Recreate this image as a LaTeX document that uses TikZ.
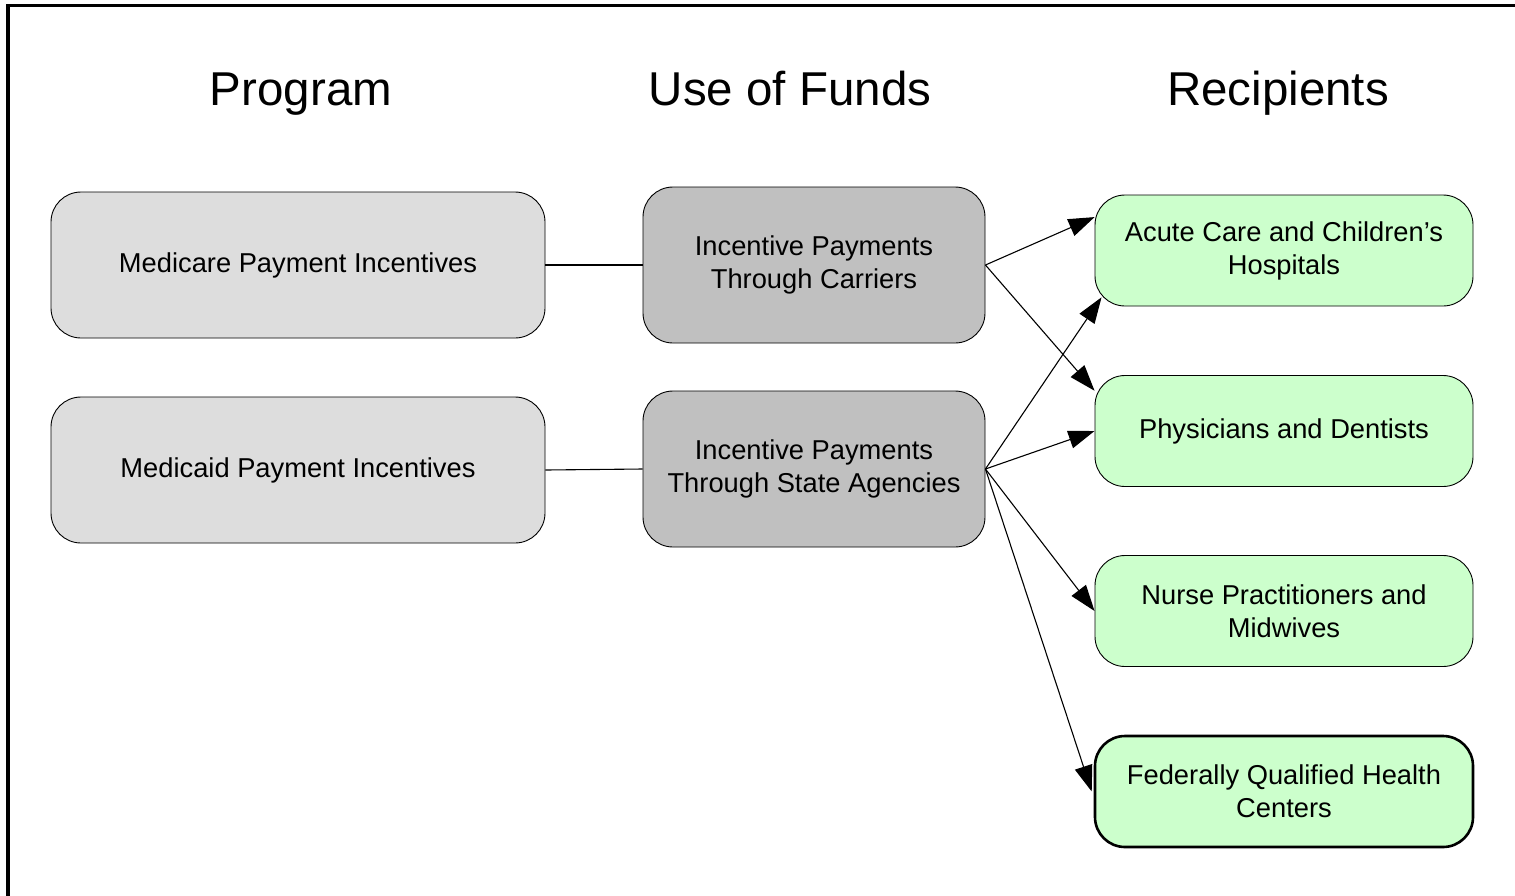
\documentclass[tikz,border=0pt]{standalone}
\usepackage{fontspec}
\setmainfont{Liberation Sans}
\usetikzlibrary{arrows.meta}
\definecolor{lgray}{HTML}{DDDDDD}
\definecolor{dgray}{HTML}{C0C0C0}
\definecolor{lgreen}{HTML}{CCFFCC}
\tikzset{
  base/.style={draw=black, line width=0.9pt, rounded corners=30pt, align=center,
    font=\fontsize{27.3}{33}\selectfont, inner sep=0pt},
  prog/.style={base, fill=lgray, minimum width=494pt, minimum height=146pt},
  fund/.style={base, fill=dgray, minimum width=342pt, minimum height=156pt},
  recip/.style={base, fill=lgreen, minimum width=378pt, minimum height=111pt},
  title/.style={font=\fontsize{47.5}{56}\selectfont, inner sep=0pt, anchor=base},
  link/.style={line width=1.1pt},
  arr/.style={line width=1.1pt, -{Triangle[length=26pt,width=18pt]}}
}
\begin{document}
\begin{tikzpicture}[x=1pt,y=-1pt]
\useasboundingbox (0,0) rectangle (1515,895);
\clip (0,0) rectangle (1515,895);
\fill[white] (0,0) rectangle (1515,895);
\draw[line width=3.2pt] (8,5.5) rectangle (1540,920);
\node[title] (tprog) at (301,105) {Program};
\node[title] (tfund) at (790,105) {Use of Funds};
\node[title] (trec) at (1278,105) {Recipients};
\node[prog] (mcare) at (298,265) {Medicare Payment Incentives};
\node[prog] (mcaid) at (298,470) {Medicaid Payment Incentives};
\node[fund] (car) at (814,265) {Incentive Payments\\Through Carriers};
\node[fund] (sta) at (814,469) {Incentive Payments\\Through State Agencies};
\node[recip] (acute) at (1284,250.5) {Acute Care and Children’s\\Hospitals};
\node[recip] (phys) at (1284,431) {Physicians and Dentists};
\node[recip] (nurse) at (1284,611) {Nurse Practitioners and\\Midwives};
\node[recip, line width=2.6pt] (fqhc) at (1284,791.5) {Federally Qualified Health\\Centers};
\draw[link] (mcare.east) -- (car.west);
\draw[link] (mcaid.east) -- (sta.west);
\draw[arr] (car.east) -- (acute.170);
\draw[arr] (car.east) -- (phys.168);
\draw[arr] (sta.east) -- ([shift={(7,-4)}]acute.195);
\draw[arr] (sta.east) -- (phys.west);
\draw[arr] (sta.east) -- (nurse.west);
\draw[arr] (sta.east) -- ([xshift=-2pt]fqhc.west);
\end{tikzpicture}
\end{document}
